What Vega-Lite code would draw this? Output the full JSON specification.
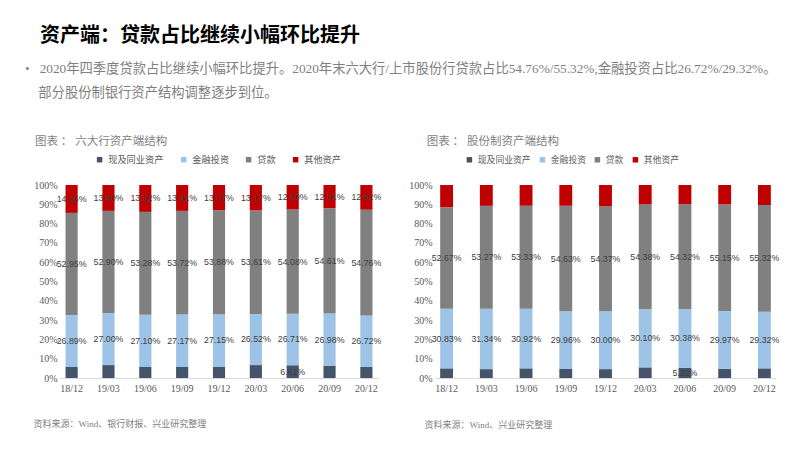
{
  "$schema": "https://vega.github.io/schema/vega-lite/v6.json",
  "background": "white",
  "padding": {"left": 25, "top": 26, "right": 10, "bottom": 10},
  "title": {
    "text": "\u200b\u00a0\u00a0\u00a0资产端：贷款占比继续小幅环比提升",
    "subtitle": ["•\u00a0\u00a0\u00a02020年四季度贷款占比继续小幅环比提升。2020年末六大行/上市股份行贷款占比54.76%/55.32%,金融投资占比26.72%/29.32%。", "\u200b\u00a0\u00a0\u00a0\u00a0部分股份制银行资产结构调整逐步到位。"],
    "anchor": "start",
    "frame": "bounds",
    "dx": -8,
    "font": "Liberation Serif, Noto Sans CJK SC",
    "fontSize": 20,
    "fontWeight": "bold",
    "color": "#000000",
    "subtitleFont": "Liberation Serif, Noto Sans CJK SC",
    "subtitleFontSize": 13.3,
    "subtitleColor": "#7f7f7f",
    "subtitlePadding": 16,
    "subtitleLineHeight": 24,
    "offset": 36
  },
  "datasets": {
    "six": [
      {"q": "18/12", "cat": "现及同业资产", "v": 5.70}, {"q": "18/12", "cat": "金融投资", "v": 26.89}, {"q": "18/12", "cat": "贷款", "v": 52.95}, {"q": "18/12", "cat": "其他资产", "v": 14.46},
      {"q": "19/03", "cat": "现及同业资产", "v": 6.70}, {"q": "19/03", "cat": "金融投资", "v": 27.00}, {"q": "19/03", "cat": "贷款", "v": 52.90}, {"q": "19/03", "cat": "其他资产", "v": 13.40},
      {"q": "19/06", "cat": "现及同业资产", "v": 5.70}, {"q": "19/06", "cat": "金融投资", "v": 27.10}, {"q": "19/06", "cat": "贷款", "v": 53.28}, {"q": "19/06", "cat": "其他资产", "v": 13.92},
      {"q": "19/09", "cat": "现及同业资产", "v": 5.70}, {"q": "19/09", "cat": "金融投资", "v": 27.17}, {"q": "19/09", "cat": "贷款", "v": 53.72}, {"q": "19/09", "cat": "其他资产", "v": 13.41},
      {"q": "19/12", "cat": "现及同业资产", "v": 5.90}, {"q": "19/12", "cat": "金融投资", "v": 27.15}, {"q": "19/12", "cat": "贷款", "v": 53.88}, {"q": "19/12", "cat": "其他资产", "v": 13.07},
      {"q": "20/03", "cat": "现及同业资产", "v": 6.70}, {"q": "20/03", "cat": "金融投资", "v": 26.52}, {"q": "20/03", "cat": "贷款", "v": 53.61}, {"q": "20/03", "cat": "其他资产", "v": 13.17},
      {"q": "20/06", "cat": "现及同业资产", "v": 6.61}, {"q": "20/06", "cat": "金融投资", "v": 26.71}, {"q": "20/06", "cat": "贷款", "v": 54.08}, {"q": "20/06", "cat": "其他资产", "v": 12.60},
      {"q": "20/09", "cat": "现及同业资产", "v": 6.40}, {"q": "20/09", "cat": "金融投资", "v": 26.98}, {"q": "20/09", "cat": "贷款", "v": 54.61}, {"q": "20/09", "cat": "其他资产", "v": 12.01},
      {"q": "20/12", "cat": "现及同业资产", "v": 5.70}, {"q": "20/12", "cat": "金融投资", "v": 26.72}, {"q": "20/12", "cat": "贷款", "v": 54.76}, {"q": "20/12", "cat": "其他资产", "v": 12.82}
    ],
    "jsc": [
      {"q": "18/12", "cat": "现及同业资产", "v": 5.00}, {"q": "18/12", "cat": "金融投资", "v": 30.83}, {"q": "18/12", "cat": "贷款", "v": 52.67}, {"q": "18/12", "cat": "其他资产", "v": 11.50},
      {"q": "19/03", "cat": "现及同业资产", "v": 4.60}, {"q": "19/03", "cat": "金融投资", "v": 31.34}, {"q": "19/03", "cat": "贷款", "v": 53.27}, {"q": "19/03", "cat": "其他资产", "v": 10.79},
      {"q": "19/06", "cat": "现及同业资产", "v": 5.00}, {"q": "19/06", "cat": "金融投资", "v": 30.92}, {"q": "19/06", "cat": "贷款", "v": 53.33}, {"q": "19/06", "cat": "其他资产", "v": 10.75},
      {"q": "19/09", "cat": "现及同业资产", "v": 4.60}, {"q": "19/09", "cat": "金融投资", "v": 29.96}, {"q": "19/09", "cat": "贷款", "v": 54.63}, {"q": "19/09", "cat": "其他资产", "v": 10.81},
      {"q": "19/12", "cat": "现及同业资产", "v": 4.60}, {"q": "19/12", "cat": "金融投资", "v": 30.00}, {"q": "19/12", "cat": "贷款", "v": 54.37}, {"q": "19/12", "cat": "其他资产", "v": 11.03},
      {"q": "20/03", "cat": "现及同业资产", "v": 5.50}, {"q": "20/03", "cat": "金融投资", "v": 30.10}, {"q": "20/03", "cat": "贷款", "v": 54.38}, {"q": "20/03", "cat": "其他资产", "v": 10.02},
      {"q": "20/06", "cat": "现及同业资产", "v": 5.32}, {"q": "20/06", "cat": "金融投资", "v": 30.38}, {"q": "20/06", "cat": "贷款", "v": 54.32}, {"q": "20/06", "cat": "其他资产", "v": 9.98},
      {"q": "20/09", "cat": "现及同业资产", "v": 4.80}, {"q": "20/09", "cat": "金融投资", "v": 29.97}, {"q": "20/09", "cat": "贷款", "v": 55.15}, {"q": "20/09", "cat": "其他资产", "v": 10.08},
      {"q": "20/12", "cat": "现及同业资产", "v": 5.00}, {"q": "20/12", "cat": "金融投资", "v": 29.32}, {"q": "20/12", "cat": "贷款", "v": 55.32}, {"q": "20/12", "cat": "其他资产", "v": 10.36}
    ]
  },
  "spacing": 26,
  "hconcat": [
    {
      "width": 318,
      "height": 193,
      "title": {"text": "图表 ： 六大行资产端结构", "anchor": "start", "frame": "bounds", "dx": 2, "offset": 8, "fontSize": 11.5, "fontWeight": "normal", "color": "#7f7f7f", "font": "Liberation Serif, Noto Sans CJK SC"},
      "data": {"name": "six"},
      "transform": [
        {"calculate": "indexof(['现及同业资产','金融投资','贷款','其他资产'], datum.cat)", "as": "o"},
        {"stack": "v", "groupby": ["q"], "sort": [{"field": "o", "order": "ascending"}], "as": ["y0", "y1"]},
        {"calculate": "(datum.y0 + datum.y1) / 2", "as": "mid"},
        {"calculate": "format(datum.v, '.2f') + '%'", "as": "label"}
      ],
      "encoding": {
        "x": {
          "field": "q", "type": "nominal", "sort": null,
          "scale": {"paddingInner": 0.67, "paddingOuter": 0.15},
          "axis": {"labelAngle": 0, "ticks": false, "domainColor": "#d9d9d9", "labelFont": "Liberation Serif", "labelFontSize": 10, "labelColor": "#595959", "labelPadding": 5,
            "title": "资料来源：Wind、银行财报、兴业研究整理", "titleAlign": "left", "titleBaseline": "top", "titleX": -27, "titleY": 41, "titleFontSize": 9, "titleFontWeight": "normal", "titleColor": "#7f7f7f", "titleFont": "Liberation Serif, Noto Sans CJK SC"}
        }
      },
      "layer": [
        {
          "mark": {"type": "bar"},
          "encoding": {
            "y": {"field": "y0", "type": "quantitative", "scale": {"domain": [0, 100]},
              "axis": {"values": [0, 10, 20, 30, 40, 50, 60, 70, 80, 90, 100], "labelOverlap": false, "labelExpr": "datum.value + '%'", "grid": false, "domain": false, "ticks": false, "labelPadding": 3, "title": null, "labelFont": "Liberation Serif", "labelFontSize": 10, "labelColor": "#595959"}},
            "y2": {"field": "y1"},
            "color": {"field": "cat", "type": "nominal",
              "scale": {"domain": ["现及同业资产", "金融投资", "贷款", "其他资产"], "range": ["#44546a", "#9dc3e6", "#808080", "#c00000"]},
              "legend": {"orient": "none", "legendX": 35, "legendY": -30, "direction": "horizontal", "title": null, "symbolType": "square", "symbolSize": 30, "labelFontSize": 9.2, "labelColor": "#595959", "labelFont": "Liberation Serif, Noto Sans CJK SC", "columnPadding": 15}}
          }
        },
        {
          "transform": [{"filter": "datum.cat != '现及同业资产' || datum.q == '20/06'"}],
          "mark": {"type": "text", "font": "Liberation Sans", "fontSize": 8.8, "color": "#404040"},
          "encoding": {
            "y": {"field": "mid", "type": "quantitative", "axis": null},
            "text": {"field": "label"}
          }
        }
      ],
      "resolve": {"axis": {"y": "independent"}}
    },
    {
      "width": 341,
      "height": 193,
      "title": {"text": "图表 ： 股份制资产端结构", "anchor": "start", "frame": "bounds", "dx": 18, "offset": 8, "fontSize": 11.5, "fontWeight": "normal", "color": "#7f7f7f", "font": "Liberation Serif, Noto Sans CJK SC"},
      "data": {"name": "jsc"},
      "transform": [
        {"calculate": "indexof(['现及同业资产','金融投资','贷款','其他资产'], datum.cat)", "as": "o"},
        {"stack": "v", "groupby": ["q"], "sort": [{"field": "o", "order": "ascending"}], "as": ["y0", "y1"]},
        {"calculate": "(datum.y0 + datum.y1) / 2", "as": "mid"},
        {"calculate": "format(datum.v, '.2f') + '%'", "as": "label"}
      ],
      "encoding": {
        "x": {
          "field": "q", "type": "nominal", "sort": null,
          "scale": {"paddingInner": 0.676, "paddingOuter": 0.13},
          "axis": {"labelAngle": 0, "ticks": false, "domainColor": "#d9d9d9", "labelFont": "Liberation Serif", "labelFontSize": 10, "labelColor": "#595959", "labelPadding": 5,
            "title": "资料来源：Wind、兴业研究整理", "titleAlign": "left", "titleBaseline": "top", "titleX": -11, "titleY": 42, "titleFontSize": 9, "titleFontWeight": "normal", "titleColor": "#7f7f7f", "titleFont": "Liberation Serif, Noto Sans CJK SC"}
        }
      },
      "layer": [
        {
          "mark": {"type": "bar"},
          "encoding": {
            "y": {"field": "y0", "type": "quantitative", "scale": {"domain": [0, 100]},
              "axis": {"values": [0, 10, 20, 30, 40, 50, 60, 70, 80, 90, 100], "labelOverlap": false, "labelExpr": "datum.value + '%'", "grid": false, "domain": false, "ticks": false, "labelPadding": 3, "title": null, "labelFont": "Liberation Serif", "labelFontSize": 10, "labelColor": "#595959"}},
            "y2": {"field": "y1"},
            "color": {"field": "cat", "type": "nominal",
              "scale": {"domain": ["现及同业资产", "金融投资", "贷款", "其他资产"], "range": ["#44546a", "#9dc3e6", "#808080", "#c00000"]},
              "legend": {"orient": "none", "legendX": 30, "legendY": -30, "direction": "horizontal", "title": null, "symbolType": "square", "symbolSize": 30, "labelFontSize": 8.8, "labelColor": "#595959", "labelFont": "Liberation Serif, Noto Sans CJK SC", "columnPadding": 7}}
          }
        },
        {
          "transform": [{"filter": "datum.cat == '金融投资' || datum.cat == '贷款' || (datum.cat == '现及同业资产' && datum.q == '20/06')"}],
          "mark": {"type": "text", "font": "Liberation Sans", "fontSize": 8.8, "color": "#404040"},
          "encoding": {
            "y": {"field": "mid", "type": "quantitative", "axis": null},
            "text": {"field": "label"}
          }
        }
      ],
      "resolve": {"axis": {"y": "independent"}}
    }
  ],
  "resolve": {"scale": {"color": "independent"}, "legend": {"color": "independent"}},
  "config": {"view": {"stroke": null}}
}
